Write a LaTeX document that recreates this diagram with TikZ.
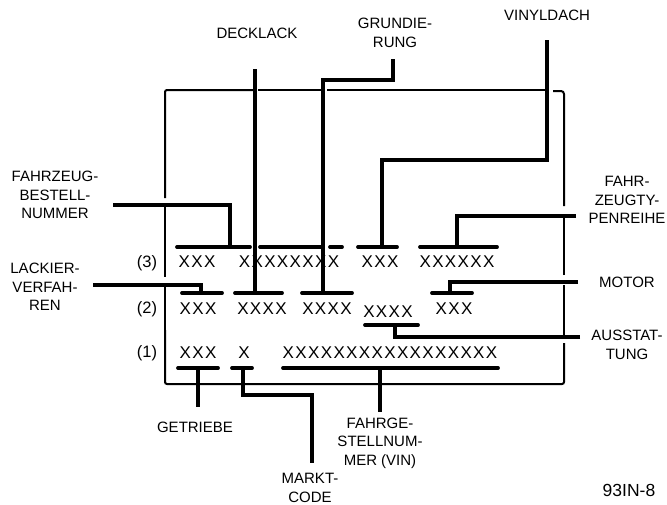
\documentclass[tikz,border=0pt]{standalone}
\usepackage{fontspec}
\setmainfont{Liberation Sans}

\tikzset{
  rahmen/.style={line width=2pt},
  leitung/.style={line width=3.2pt},
  balken/.style={line width=3.8pt, line cap=round},
  schrift/.style={align=center, inner sep=0pt, font=\fontsize{15}{18.5}\selectfont},
  nummer/.style={inner sep=0pt, font=\fontsize{16.5}{17}\selectfont},
  kode/.style={inner sep=0pt, font=\fontsize{17}{17}\selectfont\addfontfeature{LetterSpace=8}},
}

\begin{document}
\begin{tikzpicture}[x=1pt,y=-1pt]
    \useasboundingbox (0,0) rectangle (667,504);

    % Rahmen
    \draw[rahmen, rounded corners=2pt] (165,198) -- (165,90) -- (253,90);
    \draw[rahmen] (258,90) -- (321,90) (327,90) -- (547,90);
    \draw[rahmen] (165,207) -- (165,277) (165,286) -- (165,330);
    \draw[rahmen, rounded corners=2pt] (165,330) -- (165,384) -- (564,384) -- (564,343);
    \draw[rahmen] (564,335) -- (564,285) (564,275) -- (564,218);
    \draw[rahmen, rounded corners=3pt] (564,206) -- (564,91) -- (553,91);

    % Zeilen
    \node[nummer] (z3) at (147,263) {(3)};
    \node[nummer] (z2) at (147,309) {(2)};
    \node[nummer] (z1) at (147,353) {(1)};

    \node[kode] (r3a) at (197,262) {XXX};
    \node[kode] (r3b) at (289,262) {XXXXXXXX};
    \node[kode] (r3c) at (380,262) {XXX};
    \node[kode] (r3d) at (457,262) {XXXXXX};

    \node[kode] (r2a) at (198,309) {XXX};
    \node[kode] (r2b) at (262,309) {XXXX};
    \node[kode] (r2c) at (327,309) {XXXX};
    \node[kode] (r2d) at (388,312) {XXXX};
    \node[kode] (r2e) at (454,309) {XXX};

    \node[kode] (r1a) at (198,353) {XXX};
    \node[kode] (r1b) at (244,353) {X};
    \node[kode] (r1c) at (390,353) {XXXXXXXXXXXXXXXXX};

    % Balken
    \draw[balken] (177,247) -- (250,247) (260,247) -- (323,247) (330,247) -- (342,247)
                  (358,247) -- (397,247) (420,247) -- (497,247);
    \draw[balken] (182,293) -- (222,293) (235,293) -- (282,293) (302,293) -- (352,293)
                  (432,293) -- (472,293);
    \draw[balken] (365,325) -- (418,325);
    \draw[balken] (178,368) -- (218,368) (232,368) -- (252,368) (283,368) -- (498,368);

    \coordinate (b3a) at (230,247);
    \coordinate (b3c) at (382,247);
    \coordinate (b3d) at (457,247);
    \coordinate (b2a) at (201,293);
    \coordinate (b2b) at (255,293);
    \coordinate (b2c) at (323,293);
    \coordinate (b2d) at (395,325);
    \coordinate (b2e) at (450,293);
    \coordinate (b1a) at (198,368);
    \coordinate (b1b) at (243,368);
    \coordinate (b1c) at (380,368);

    % Beschriftung
    \node[schrift] (dl) at (257,33) {DECKLACK};
    \node[schrift] (gr) at (395,33) {GRUNDIE-\\RUNG};
    \node[schrift] (vd) at (547,15) {VINYLDACH};
    \node[schrift] (bn) at (55,195) {FAHRZEUG-\\BESTELL-\\NUMMER};
    \node[schrift] (lv) at (45,287) {LACKIER-\\VERFAH-\\REN};
    \node[schrift] (tr) at (627,200) {FAHR-\\ZEUGTY-\\PENREIHE};
    \node[schrift] (mo) at (627,282) {MOTOR};
    \node[schrift] (au) at (627,345) {AUSSTAT-\\TUNG};
    \node[schrift] (ge) at (195,427) {GETRIEBE};
    \node[schrift] (mc) at (310,488) {MARKT-\\CODE};
    \node[schrift] (fg) at (380,443) {FAHRGE-\\STELLNUM-\\MER (VIN)};
    \node[nummer, font=\fontsize{17.5}{18}\selectfont] (nr) at (629,490) {93IN-8};

    \coordinate (dl1) at (255,69);
    \coordinate (gr1) at (393,59);
    \coordinate (vd1) at (547,40);
    \coordinate (bn1) at (113,205);
    \coordinate (lv1) at (93,285);
    \coordinate (tr1) at (576,216);
    \coordinate (mo1) at (578,282);
    \coordinate (au1) at (580,337);
    \coordinate (ge1) at (198,407);
    \coordinate (mc1) at (312,463);
    \coordinate (fg1) at (380,412);

    % Leitungen
    \draw[leitung] (dl1) -- (b2b);
    \draw[leitung] (gr1) -- ++(0,21) -| (b2c);
    \draw[leitung] (vd1) -- ++(0,120) -| (b3c);
    \draw[leitung, line width=3.8pt] (bn1) -| (b3a);
    \draw[leitung, line width=3.8pt] (lv1) -| (b2a);
    \draw[leitung] (tr1) -| (b3d);
    \draw[leitung] (mo1) -| (b2e);
    \draw[leitung] (au1) -| (b2d);
    \draw[leitung] (b1a) -- (ge1);
    \draw[leitung] (b1b) -- ++(0,27) -| (mc1);
    \draw[leitung] (b1c) -- (fg1);
\end{tikzpicture}
\end{document}
